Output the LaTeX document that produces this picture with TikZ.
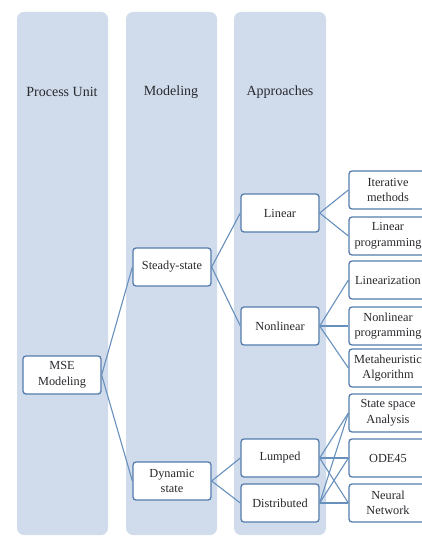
\documentclass[tikz,border=0pt]{standalone}
\usepackage{fontspec}
\setmainfont{Liberation Serif}
\usetikzlibrary{positioning}

\definecolor{panelfill}{RGB}{208,220,236}
\definecolor{boxline}{RGB}{84,124,172}
\definecolor{linkline}{RGB}{104,144,188}
\definecolor{txt}{RGB}{40,40,45}

\tikzset{
  panel/.style={fill=panelfill,draw=none,rounded corners=7pt},
  head/.style={text=txt,font=\fontsize{14}{16}\selectfont},
  unit/.style={draw=boxline,fill=white,line width=1.3pt,rounded corners=3pt,
    minimum width=78pt,minimum height=38pt,inner sep=1pt,align=center,
    text=txt,font=\fontsize{12.3}{15.5}\selectfont},
  link/.style={draw=linkline,line width=1.1pt}
}

\begin{document}
\begin{tikzpicture}[x=1pt,y=-1pt]
\useasboundingbox (0,0) rectangle (422,537);
% column panels
\fill[panel] (17,12) rectangle (108,535);
\fill[panel] (126,12) rectangle (217,535);
\fill[panel] (234,12) rectangle (326,535);
\node[head] (h1) at (62,92) {Process Unit};
\node[head] (h2) at (171,92) {Modeling};
\node[head] (h3) at (280,92) {Approaches};

% boxes
\node[unit] (mse) at (62,375) {MSE\\Modeling};
\node[unit] (steady) at (172,267) {Steady-state};
\node[unit] (dyn) at (172,481) {Dynamic\\state};
\node[unit] (lin) at (280,213) {Linear};
\node[unit] (nonlin) at (280,326) {Nonlinear};
\node[unit] (lump) at (280,458) {Lumped};
\node[unit] (distr) at (280,503) {Distributed};
\node[unit] (iter) at (388,190) {Iterative\\methods};
\node[unit] (linprog) at (388,236) {Linear\\programming};
\node[unit] (linz) at (388,280) {Linearization};
\node[unit] (nlprog) at (388,326) {Nonlinear\\programming};
\node[unit] (meta) at (388,368) {Metaheuristic\\Algorithm};
\node[unit] (ssa) at (388,413) {State space\\Analysis};
\node[unit] (ode) at (388,458) {ODE45};
\node[unit] (nn) at (388,503) {Neural\\Network};

% links
\draw[link] (mse.east) -- (steady.west);
\draw[link] (mse.east) -- (dyn.west);
\draw[link] (steady.east) -- (lin.west);
\draw[link] (steady.east) -- (nonlin.west);
\draw[link] (dyn.east) -- (lump.west);
\draw[link] (dyn.east) -- (distr.west);
\draw[link] (lin.east) -- (iter.west);
\draw[link] (lin.east) -- (linprog.west);
\foreach \t in {linz,nlprog,meta}
  \draw[link] (nonlin.east) -- (\t.west);
\foreach \s in {lump,distr}
  \foreach \t in {ssa,ode,nn}
    \draw[link] (\s.east) -- (\t.west);
\end{tikzpicture}
\end{document}
